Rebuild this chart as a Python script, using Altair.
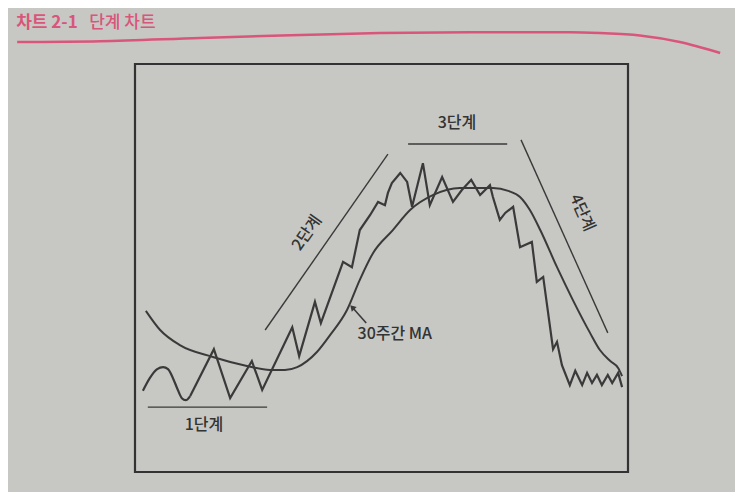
import altair as alt
import pandas as pd

# ---- data (x = weeks across the frame 0-100, y = price level 0-100) ----
price_week = [1.6, 3.0, 4.5, 5.7, 6.7, 7.7, 8.7, 9.5, 10.3, 11.2, 16.0, 19.3, 23.7, 25.8,
              31.9, 33.3, 36.5, 37.7, 42.2, 44.0, 45.6, 47.7, 49.3, 50.7, 51.3, 52.1,
              53.8, 55.2, 56.2, 58.4, 59.8, 62.3, 64.5, 66.3, 68.2, 70.0, 72.0, 72.6,
              74.0, 75.1, 76.7, 78.1, 80.5, 81.5, 82.8, 84.8, 85.6, 86.6, 88.2, 89.3,
              90.7, 91.7, 92.7, 93.7, 94.7, 95.9, 96.8, 98.0, 98.8]
price_value = [19.9, 23.0, 25.2, 25.7, 25.2, 23.0, 20.1, 18.1, 17.6, 18.6, 30.1, 18.1, 27.2, 20.1,
               35.5, 28.4, 41.7, 36.5, 51.5, 50.2, 59.3, 63.0, 66.2, 65.4, 68.4, 70.8,
               73.3, 71.1, 65.0, 75.7, 65.4, 72.3, 66.2, 69.1, 71.6, 67.9, 70.3, 67.4,
               61.8, 63.5, 65.0, 55.1, 56.4, 46.6, 47.8, 30.1, 31.9, 26.2, 21.3, 24.8,
               21.3, 24.3, 21.8, 23.8, 21.3, 23.8, 21.8, 24.3, 20.8]
smooth_until = 9  # the opening base wave is rounded, the rest is jagged

ma_week = [2.2, 5.1, 9.1, 15.8, 22.7, 27.4, 30.4, 32.9, 36.9, 39.6, 43.0, 45.6, 48.3,
           52.3, 55.8, 60.5, 65.9, 72.6, 75.7, 78.1, 80.1, 82.2, 85.6, 88.8, 92.3,
           94.3, 96.4, 98.0, 98.8]
ma_value = [39.5, 34.8, 31.1, 28.2, 26.0, 25.0, 25.0, 25.7, 29.4, 33.6, 39.7, 47.1, 53.7,
            59.3, 64.2, 67.9, 69.6, 69.6, 68.9, 67.4, 64.2, 59.3, 50.2, 42.2, 34.1,
            29.9, 27.2, 25.5, 23.5]

stage_labels = ["1단계", "2단계", "3단계", "4단계"]
stage_start_week = [2.6, 26.4, 55.4, 78.3]
stage_start_value = [15.9, 34.8, 80.4, 81.4]
stage_end_week = [26.8, 51.3, 75.5, 95.9]
stage_end_value = [15.9, 77.9, 80.4, 34.1]
stage_label_week = [14.0, 34.9, 65.3, 90.7]
stage_label_value = [11.5, 58.6, 85.5, 63.5]
stage_label_angle = [0, 305, 0, 66]

ma_label = "30주간 MA"
ma_label_week = [52.7]
ma_label_value = [33.8]
arrow_tail_week, arrow_tail_value = 46.9, 36.5
arrow_tip_week, arrow_tip_value = 44.2, 40.2

title_bold = "차트 2-1"
title_rest = "단계 차트"
title_bold_week = -24.1
title_rest_week = -9.3
title_value = 110.0

header_rule_week = [-23.9, -7.1, 13.2, 33.5, 49.7, 68.0, 88.2, 94.3, 102.4, 110.5, 118.7]
header_rule_value = [105.4, 105.6, 106.4, 107.1, 107.6, 107.8, 107.8, 107.6, 107.0, 105.4, 102.7]

# ---- build ----
FONT = "Noto Sans CJK KR"
INK = "#3a3a3a"
PINK = "#d9557a"

xs = alt.Scale(domain=[0, 100])
ys = alt.Scale(domain=[0, 100])
X = lambda f: alt.X(f, type="quantitative", scale=xs, axis=None)
Y = lambda f: alt.Y(f, type="quantitative", scale=ys, axis=None)

price_df = pd.DataFrame({"w": price_week, "p": price_value, "o": range(len(price_week))})
ma_df = pd.DataFrame({"w": ma_week, "p": ma_value, "o": range(len(ma_week))})
stage_df = pd.DataFrame({"w": stage_start_week, "p": stage_start_value,
                         "w2": stage_end_week, "p2": stage_end_value})
label_df = pd.DataFrame({"label": stage_labels, "w": stage_label_week,
                         "p": stage_label_value, "a": stage_label_angle})
ma_label_df = pd.DataFrame({"label": [ma_label], "w": ma_label_week, "p": ma_label_value})
arrow_df = pd.DataFrame({"w": [arrow_tail_week], "p": [arrow_tail_value],
                         "w2": [arrow_tip_week], "p2": [arrow_tip_value]})
tip_df = pd.DataFrame({"w": [arrow_tip_week], "p": [arrow_tip_value]})
title_bold_df = pd.DataFrame({"label": [title_bold], "w": [title_bold_week], "p": [title_value]})
title_rest_df = pd.DataFrame({"label": [title_rest], "w": [title_rest_week], "p": [title_value]})
header_df = pd.DataFrame({"w": header_rule_week, "p": header_rule_value,
                          "o": range(len(header_rule_week))})

price_base = alt.Chart(price_df)
price_smooth = price_base.transform_filter(alt.datum.o <= smooth_until).mark_line(
    color=INK, strokeWidth=2.2, interpolate="monotone").encode(x=X("w"), y=Y("p"), order="o:O")
price_sharp = price_base.transform_filter(alt.datum.o >= smooth_until).mark_line(
    color=INK, strokeWidth=2.2, strokeJoin="miter").encode(x=X("w"), y=Y("p"), order="o:O")
ma = alt.Chart(ma_df).mark_line(color=INK, strokeWidth=2, interpolate="monotone").encode(
    x=X("w"), y=Y("p"), order="o:O")
stages = alt.Chart(stage_df).mark_rule(color=INK, strokeWidth=1.4).encode(
    x=X("w"), y=Y("p"), x2="w2", y2="p2")
labels = alt.Chart(label_df).mark_text(font=FONT, fontSize=16, fontWeight=500, color="#333333",
                                       align="center", baseline="middle").encode(
    x=X("w"), y=Y("p"), text="label", angle=alt.Angle("a:Q", scale=None))
ma_text = alt.Chart(ma_label_df).mark_text(font=FONT, fontSize=16, fontWeight=500, color="#333333",
                                           align="center", baseline="middle").encode(
    x=X("w"), y=Y("p"), text="label")
arrow = alt.Chart(arrow_df).mark_rule(color=INK, strokeWidth=1.6).encode(
    x=X("w"), y=Y("p"), x2="w2", y2="p2")
tip = alt.Chart(tip_df).mark_point(shape="triangle", filled=True, size=45, color=INK,
                                    angle=317, opacity=1).encode(x=X("w"), y=Y("p"))
title_b = alt.Chart(title_bold_df).mark_text(font=FONT, fontSize=17, fontWeight="bold", color=PINK,
                                             align="left", baseline="middle").encode(
    x=X("w"), y=Y("p"), text="label")
title_r = alt.Chart(title_rest_df).mark_text(font=FONT, fontSize=17, fontWeight=500, color=PINK,
                                             align="left", baseline="middle").encode(
    x=X("w"), y=Y("p"), text="label")
header = alt.Chart(header_df).mark_line(color=PINK, strokeWidth=2.5, interpolate="monotone").encode(
    x=X("w"), y=Y("p"), order="o:O")

chart = alt.layer(header, title_b, title_r, stages, labels, ma, price_smooth, price_sharp,
                  arrow, tip, ma_text).properties(
    width=493, height=408,
    autosize=alt.AutoSizeParams(type="none"),
    padding={"left": 127, "top": 56, "right": 107, "bottom": 20},
    background="#c7c8c4",
).configure_view(stroke="#333333", strokeWidth=2.2)

chart.save("out.html", embed_options={"renderer": "svg", "actions": False})
